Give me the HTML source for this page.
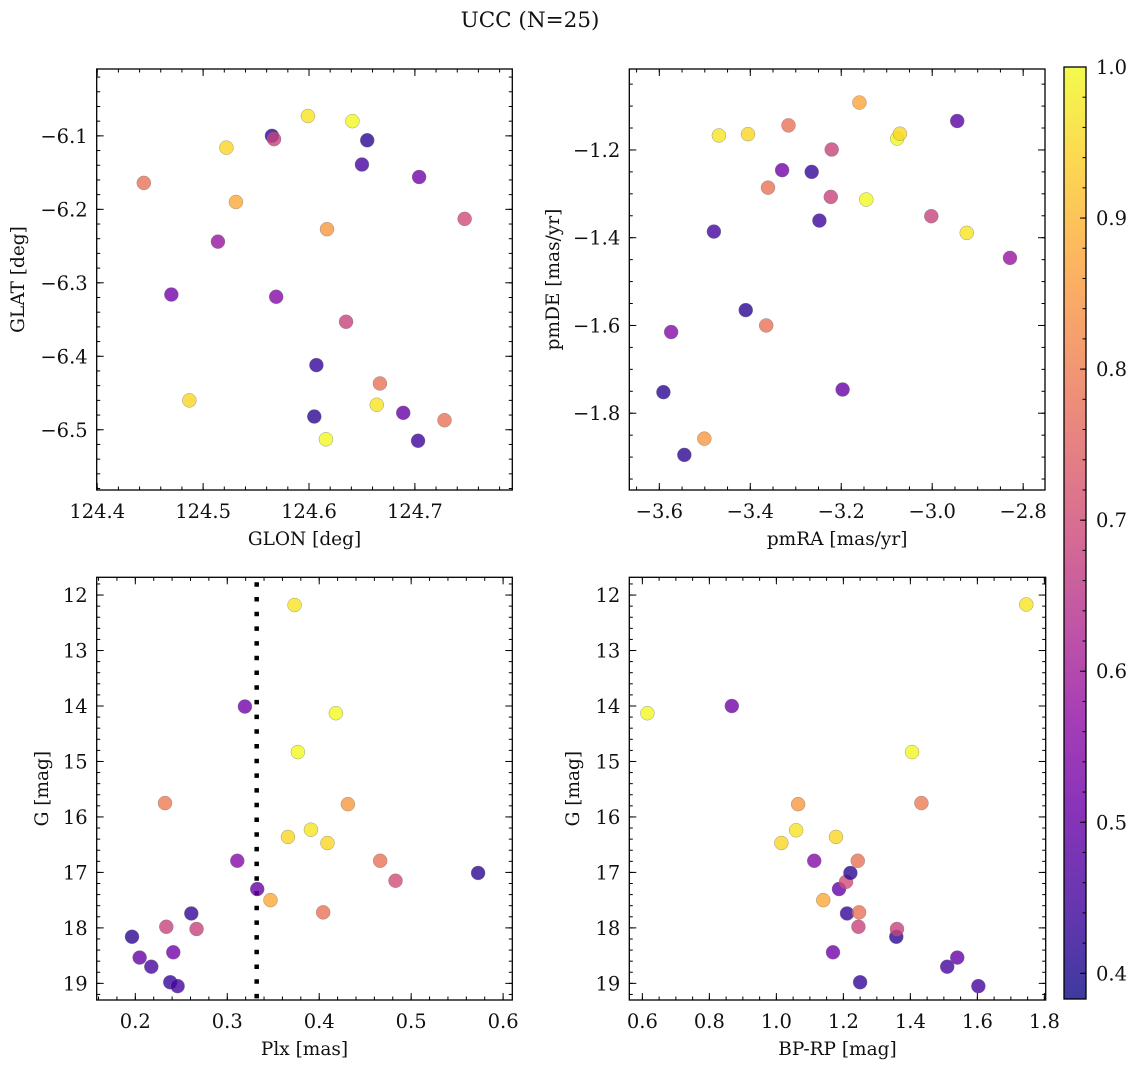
<!DOCTYPE html>
<html><head><meta charset="utf-8"><style>
html,body{margin:0;padding:0;background:#fff;}
svg{display:block;font-family:"DejaVu Serif","Liberation Serif",serif;}
</style></head><body>
<svg id="fig" width="1136" height="1067" viewBox="0 0 1136 1067" xmlns="http://www.w3.org/2000/svg">
<text x="530" y="27" font-size="21.5" text-anchor="middle" fill="#111">UCC (N=25)</text>
<defs>
<linearGradient id="plasma" x1="0" y1="1" x2="0" y2="0">
<stop offset="0" stop-color="#0d0887"/><stop offset="0.1" stop-color="#41049d"/><stop offset="0.2" stop-color="#6a00a8"/><stop offset="0.3" stop-color="#8f0da4"/><stop offset="0.4" stop-color="#b12a90"/><stop offset="0.5" stop-color="#cc4778"/><stop offset="0.6" stop-color="#e16462"/><stop offset="0.7" stop-color="#f2844b"/><stop offset="0.8" stop-color="#fca636"/><stop offset="0.9" stop-color="#fcce25"/><stop offset="1" stop-color="#f0f921"/>
</linearGradient>
</defs>
</svg>
<script>
// ---- data ----
const glon = [124.444,124.470,124.487,124.514,124.522,124.531,124.565,124.567,124.569,124.599,124.605,124.607,124.616,124.617,124.635,124.641,124.650,124.655,124.664,124.667,124.689,124.703,124.704,124.728,124.747];
const glat = [-6.164,-6.316,-6.460,-6.244,-6.116,-6.190,-6.100,-6.1045,-6.319,-6.073,-6.482,-6.412,-6.513,-6.227,-6.353,-6.080,-6.139,-6.106,-6.466,-6.437,-6.477,-6.515,-6.156,-6.487,-6.213];
const probTL = [0.78,0.52,0.95,0.58,0.95,0.88,0.42,0.68,0.55,0.97,0.42,0.43,1.0,0.85,0.68,1.0,0.45,0.42,0.97,0.78,0.5,0.44,0.52,0.78,0.7];

const pmra = [-3.591,-3.574,-3.545,-3.501,-3.480,-3.469,-3.410,-3.405,-3.365,-3.361,-3.330,-3.316,-3.265,-3.248,-3.223,-3.221,-3.197,-3.160,-3.145,-3.077,-3.071,-3.002,-2.945,-2.924,-2.829];
const pmde = [-1.752,-1.615,-1.895,-1.858,-1.386,-1.167,-1.565,-1.164,-1.600,-1.286,-1.246,-1.144,-1.250,-1.361,-1.307,-1.199,-1.746,-1.092,-1.313,-1.174,-1.163,-1.351,-1.134,-1.389,-1.446];
const probTR = [0.42,0.55,0.42,0.85,0.45,0.97,0.42,0.95,0.78,0.78,0.52,0.78,0.43,0.44,0.68,0.68,0.5,0.87,1.0,1.0,0.95,0.68,0.48,0.97,0.58];

const plx = [0.1964,0.2047,0.2174,0.2323,0.2337,0.238,0.2413,0.246,0.2609,0.2666,0.3109,0.3192,0.3326,0.347,0.366,0.3732,0.3768,0.391,0.4043,0.409,0.4181,0.4312,0.4663,0.483,0.5728];
const gmagBL = [18.16,18.535,18.70,15.75,17.98,18.98,18.44,19.05,17.74,18.02,16.79,14.01,17.30,17.50,16.36,12.18,14.83,16.23,17.72,16.47,14.13,15.77,16.79,17.15,17.01];
const probBL = [0.42,0.5,0.45,0.8,0.68,0.43,0.52,0.45,0.43,0.68,0.55,0.52,0.5,0.88,0.95,0.97,1.0,0.97,0.78,0.95,1.0,0.85,0.78,0.7,0.42];
const plxLine = [0.332];

const bprp = [0.615,0.867,1.015,1.059,1.065,1.113,1.140,1.169,1.178,1.187,1.208,1.211,1.221,1.243,1.245,1.247,1.250,1.358,1.360,1.405,1.433,1.510,1.540,1.603,1.746];
const gmagBR = [14.13,14.00,16.47,16.24,15.77,16.79,17.50,18.44,16.36,17.30,17.17,17.74,17.01,16.79,17.98,17.72,18.98,18.16,18.02,14.83,15.75,18.70,18.535,19.05,12.17];
const probBR = [1.0,0.52,0.95,0.97,0.85,0.55,0.88,0.52,0.95,0.5,0.7,0.43,0.42,0.78,0.68,0.78,0.43,0.42,0.68,1.0,0.8,0.45,0.5,0.45,0.97];

const tlXTicks = [124.4,124.5,124.6,124.7];
const tlYTicks = [-6.1,-6.2,-6.3,-6.4,-6.5];
const trXTicks = [-3.6,-3.4,-3.2,-3.0,-2.8];
const trYTicks = [-1.2,-1.4,-1.6,-1.8];
const blXTicks = [0.2,0.3,0.4,0.5,0.6];
const gTicks = [12,13,14,15,16,17,18,19];
const brXTicks = [0.6,0.8,1.0,1.2,1.4,1.6,1.8];
const cbTicks = [0.4,0.5,0.6,0.7,0.8,0.9,1.0];

// ---- rendering ----
const NS = "http://www.w3.org/2000/svg";
const svg = document.getElementById('fig');
const VMIN = 0.383, VMAX = 1.0;
const TFS = 19.5, LFS = 18.5;
const stops = ["#0d0887","#41049d","#6a00a8","#8f0da4","#b12a90","#cc4778","#e16462","#f2844b","#fca636","#fcce25","#f0f921"];
function hex(h){return [parseInt(h.substr(1,2),16),parseInt(h.substr(3,2),16),parseInt(h.substr(5,2),16)];}
function plasma(v){
  let t=(v-VMIN)/(VMAX-VMIN); t=Math.max(0,Math.min(1,t));
  const f=t*10, i=Math.min(9,Math.floor(f)), r=f-i;
  const a=hex(stops[i]), b=hex(stops[i+1]);
  return 'rgb('+a.map((c,k)=>Math.round(c+(b[k]-c)*r)).join(',')+')';
}
function mk(tag, attrs, parent){
  const e=document.createElementNS(NS,tag);
  for(const k in attrs) e.setAttribute(k,attrs[k]);
  (parent||svg).appendChild(e); return e;
}
function fmt(v,d){const s=v.toFixed(d); return s.replace('-','\u2212');}

function panel(cfg){
  const g=mk('g',{});
  
  
  const L=cfg.box[0],T=cfg.box[1],R=cfg.box[2],B=cfg.box[3];
  const sx=v=>L+(v-cfg.xr[0])/(cfg.xr[1]-cfg.xr[0])*(R-L);
  const sy=cfg.yInv ? (v=>T+(v-cfg.yr[0])/(cfg.yr[1]-cfg.yr[0])*(B-T)) : (v=>B-(v-cfg.yr[0])/(cfg.yr[1]-cfg.yr[0])*(B-T));
  if(cfg.vline){
    cfg.vline.forEach(v=>{
      const ln=mk('line',{x1:sx(v),x2:sx(v),y1:T+5,y2:B,stroke:'#000','stroke-width':4.5,'stroke-dasharray':'4.5 10.2'},g);
      
      
    });
  }
  cfg.xs.forEach((xv,i)=>{
    const c=mk('circle',{cx:sx(xv),cy:sy(cfg.ys[i]),r:7,fill:plasma(cfg.ps[i]),'fill-opacity':0.8,stroke:'#777','stroke-width':0.5,'stroke-opacity':0.7},g);
    
    
  });
  const fr=mk('rect',{x:L,y:T,width:R-L,height:B-T,fill:'none',stroke:'#000','stroke-width':1.3},g);
  
  
  const tk=(x1,y1,x2,y2)=>mk('line',{x1,y1,x2,y2,stroke:'#000','stroke-width':1},g);
  const xMinStep=cfg.xMinor, yMinStep=cfg.yMinor;
  for(let v=Math.ceil(cfg.xr[0]/xMinStep)*xMinStep; v<=cfg.xr[1]+1e-9; v+=xMinStep){
    const x=sx(v); tk(x,B,x,B-3.5); tk(x,T,x,T+3.5);
  }
  for(let v=Math.ceil(Math.min(cfg.yr[0],cfg.yr[1])/yMinStep)*yMinStep; v<=Math.max(cfg.yr[0],cfg.yr[1])+1e-9; v+=yMinStep){
    const y=sy(v); tk(L,y,L+3.5,y); tk(R,y,R-3.5,y);
  }
  cfg.xt.forEach(v=>{
    const x=sx(v); tk(x,B,x,B-7); tk(x,T,x,T+7);
    const t=mk('text',{x:x,y:B+28,'font-size':TFS,'text-anchor':'middle',fill:'#111'},g);
    t.textContent=fmt(v,cfg.xd);
    
    
  });
  cfg.yt.forEach(v=>{
    const y=sy(v); tk(L,y,L+7,y); tk(R,y,R-7,y);
    const t=mk('text',{x:L-9,y:y+7,'font-size':TFS,'text-anchor':'end',fill:'#111'},g);
    t.textContent=fmt(v,cfg.yd);
    
    
  });
  const xl=mk('text',{x:(L+R)/2,y:B+55,'font-size':LFS,'text-anchor':'middle',fill:'#111'},g);
  xl.textContent=cfg.xlabel;
  
  
  const yl=mk('text',{x:0,y:0,'font-size':LFS,'text-anchor':'middle',fill:'#111',transform:'translate('+cfg.ylx+','+(T+B)/2+') rotate(-90)'},g);
  yl.textContent=cfg.ylabel;
  
  
}

panel({name:'glon-glat-panel',box:[96.7,69,512.3,490],xr:[124.3995,124.792],yr:[-6.582,-6.009],xs:glon,ys:glat,ps:probTL,xt:tlXTicks,yt:tlYTicks,xd:1,yd:1,xMinor:0.02,yMinor:0.02,xlabel:'GLON [deg]',ylabel:'GLAT [deg]',ylx:24});
panel({name:'pm-panel',box:[629.3,69,1045,490],xr:[-3.666,-2.752],yr:[-1.975,-1.0155],xs:pmra,ys:pmde,ps:probTR,xt:trXTicks,yt:trYTicks,xd:1,yd:1,xMinor:0.05,yMinor:0.05,xlabel:'pmRA [mas/yr]',ylabel:'pmDE [mas/yr]',ylx:559});
panel({name:'plx-g-panel',box:[96.7,577.3,512.3,1000],xr:[0.158,0.610],yr:[11.68,19.30],yInv:true,xs:plx,ys:gmagBL,ps:probBL,xt:blXTicks,yt:gTicks,xd:1,yd:0,xMinor:0.02,yMinor:0.2,xlabel:'Plx [mas]',ylabel:'G [mag]',ylx:48,vline:plxLine});
panel({name:'cmd-panel',box:[629.3,577.3,1045.7,1000],xr:[0.561,1.804],yr:[11.68,19.30],yInv:true,xs:bprp,ys:gmagBR,ps:probBR,xt:brXTicks,yt:gTicks,xd:1,yd:0,xMinor:0.05,yMinor:0.2,xlabel:'BP-RP [mag]',ylabel:'G [mag]',ylx:579});

(function(){
  const L=1064,R=1086,T=67,B=999;
  const g=mk('g',{});
  
  
  const sy=v=>B-(v-VMIN)/(VMAX-VMIN)*(B-T);
  mk('rect',{x:L,y:T,width:R-L,height:B-T,fill:'url(#plasma)','fill-opacity':0.8,stroke:'#000','stroke-width':1.3},g);
  for(let v=0.40; v<=1.0001; v+=0.02){ mk('line',{x1:R,x2:R-3.5,y1:sy(v),y2:sy(v),stroke:'#000','stroke-width':1},g); }
  cbTicks.forEach(v=>{
    const y=sy(v);
    mk('line',{x1:R,x2:R-6,y1:y,y2:y,stroke:'#000','stroke-width':1},g);
    const t=mk('text',{x:R+10,y:y+7,'font-size':TFS,fill:'#111'},g);
    t.textContent=v.toFixed(1);
    
    
  });
})();
</script>
</body></html>
